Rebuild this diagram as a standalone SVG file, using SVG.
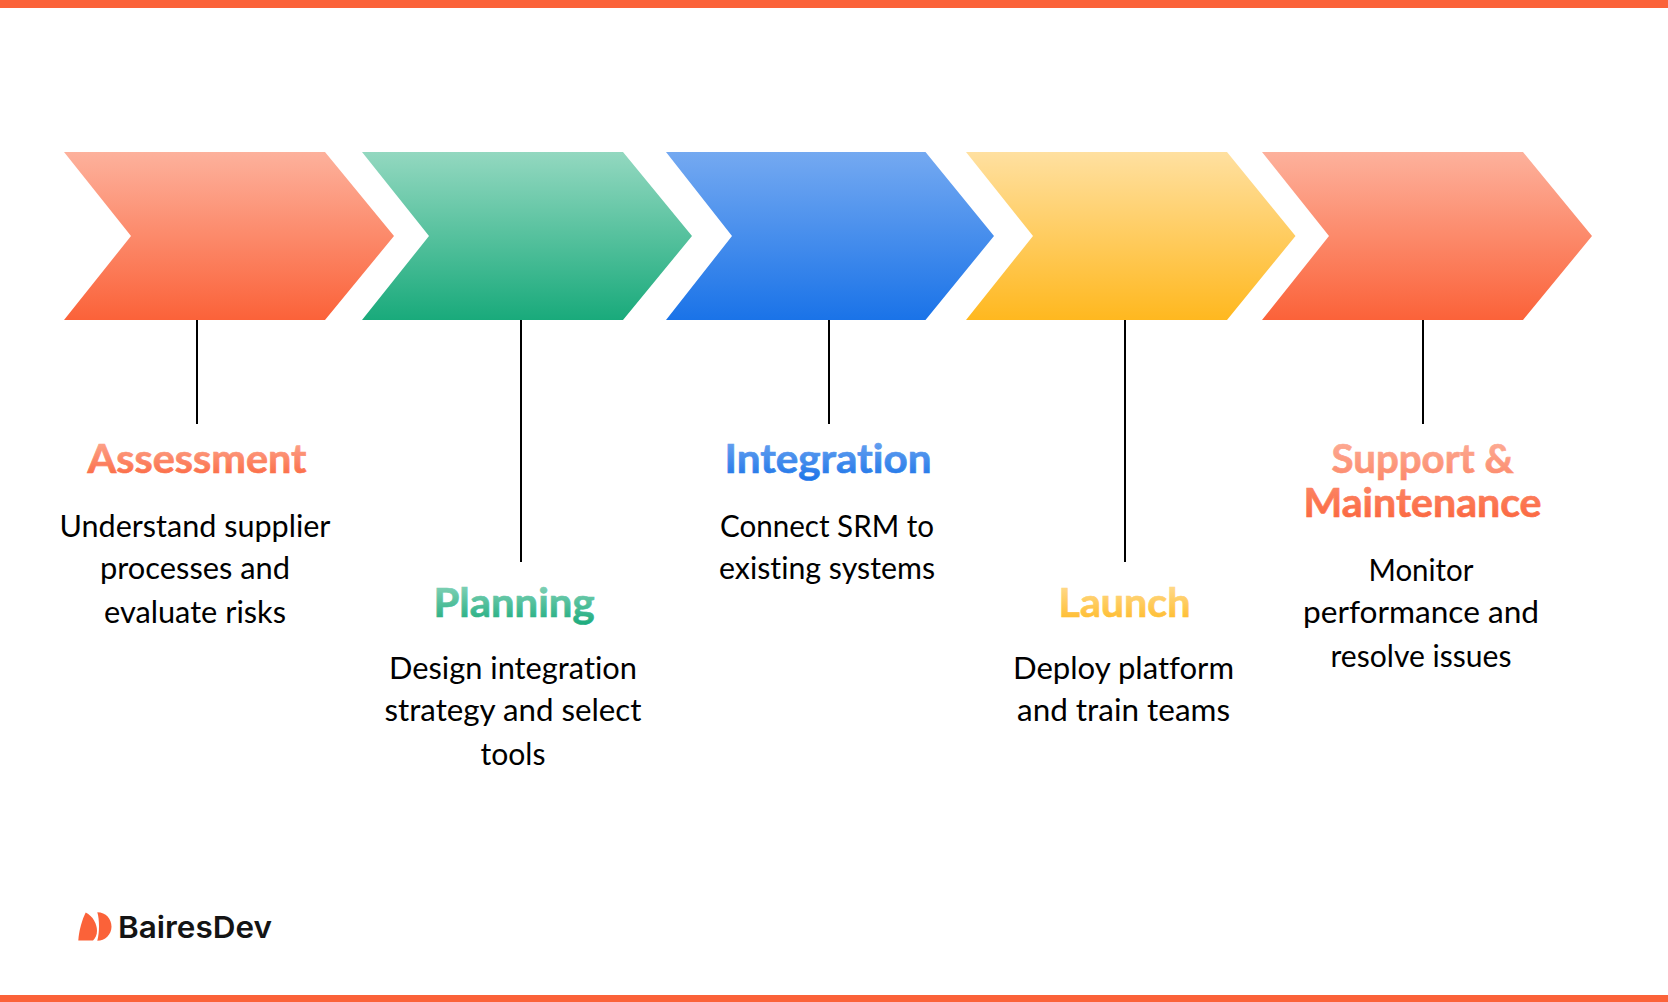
<svg xmlns="http://www.w3.org/2000/svg" width="1668" height="1002" viewBox="0 0 1668 1002">
<style>
.h{font-family:"Lato","Liberation Sans",sans-serif;font-weight:700;font-size:40px;text-anchor:middle;font-variant-ligatures:none;stroke-width:.7}
.b{font-family:"Lato","Liberation Sans",sans-serif;font-weight:400;font-size:30.5px;text-anchor:middle;fill:#000;font-variant-ligatures:none}
.c{stroke:#000;stroke-width:2;fill:none}
.bar{fill:#fb6239}
</style>
<defs>
<linearGradient id="o" x1="0" y1="0" x2="0" y2="1"><stop offset="0" stop-color="#fdb19c"/><stop offset="1" stop-color="#fb6239"/></linearGradient>
<linearGradient id="g" x1="0" y1="0" x2="0" y2="1"><stop offset="0" stop-color="#93d8c0"/><stop offset="1" stop-color="#19aa7b"/></linearGradient>
<linearGradient id="u" x1="0" y1="0" x2="0" y2="1"><stop offset="0" stop-color="#74a9f1"/><stop offset="1" stop-color="#1a73e8"/></linearGradient>
<linearGradient id="y" x1="0" y1="0" x2="0" y2="1"><stop offset="0" stop-color="#ffe0a0"/><stop offset="1" stop-color="#ffb81f"/></linearGradient>
</defs>
<rect class="bar" x="0" y="0" width="1668" height="8"/>
<rect class="bar" x="0" y="995" width="1668" height="7"/>
<g id="connectors">
<line class="c" x1="197" y1="320" x2="197" y2="424"/>
<line class="c" x1="521" y1="320" x2="521" y2="562"/>
<line class="c" x1="829" y1="320" x2="829" y2="424"/>
<line class="c" x1="1125" y1="320" x2="1125" y2="562"/>
<line class="c" x1="1423" y1="320" x2="1423" y2="424"/>
</g>
<g id="assessment">
<polygon fill="url(#o)" points="64,152 325,152 394,236 325,320 64,320 131,236"/>
<text class="h" x="197" y="473" fill="url(#o)" stroke="url(#o)" textLength="219" lengthAdjust="spacingAndGlyphs">Assessment</text>
<text class="b" x="195" y="537" textLength="271" lengthAdjust="spacingAndGlyphs">Understand supplier</text>
<text class="b" x="195" y="579" textLength="190" lengthAdjust="spacingAndGlyphs">processes and</text>
<text class="b" x="195" y="623" textLength="182" lengthAdjust="spacingAndGlyphs">evaluate risks</text>
</g>
<g id="planning">
<polygon fill="url(#g)" points="362,152 623,152 692,236 623,320 362,320 429,236"/>
<text class="h" x="514" y="617" fill="url(#g)" stroke="url(#g)" textLength="161" lengthAdjust="spacingAndGlyphs">Planning</text>
<text class="b" x="513" y="679" textLength="248" lengthAdjust="spacingAndGlyphs">Design integration</text>
<text class="b" x="513" y="721" textLength="257" lengthAdjust="spacingAndGlyphs">strategy and select</text>
<text class="b" x="513" y="765" textLength="65" lengthAdjust="spacingAndGlyphs">tools</text>
</g>
<g id="integration">
<polygon fill="url(#u)" points="666,152 925.5,152 994,236 925.5,320 666,320 732,236"/>
<text class="h" x="828" y="473" fill="url(#u)" stroke="url(#u)" textLength="207" lengthAdjust="spacingAndGlyphs">Integration</text>
<text class="b" x="827" y="537" textLength="214" lengthAdjust="spacingAndGlyphs">Connect SRM to</text>
<text class="b" x="827" y="579" textLength="216" lengthAdjust="spacingAndGlyphs">existing systems</text>
</g>
<g id="launch">
<polygon fill="url(#y)" points="966,152 1227,152 1295.5,236 1227,320 966,320 1033,236"/>
<text class="h" x="1124.5" y="617" fill="url(#y)" stroke="url(#y)" textLength="132" lengthAdjust="spacingAndGlyphs">Launch</text>
<text class="b" x="1123.5" y="679" textLength="221" lengthAdjust="spacingAndGlyphs">Deploy platform</text>
<text class="b" x="1123.5" y="721" textLength="213" lengthAdjust="spacingAndGlyphs">and train teams</text>
</g>
<g id="support">
<polygon fill="url(#o)" points="1262,152 1523,152 1592,236 1523,320 1262,320 1329,236"/>
<text class="h" fill="url(#o)" stroke="url(#o)"><tspan x="1422.5" y="473" textLength="182" lengthAdjust="spacingAndGlyphs">Support &amp;</tspan><tspan x="1422.5" y="517" textLength="238" lengthAdjust="spacingAndGlyphs">Maintenance</tspan></text>
<text class="b" x="1421" y="581" textLength="105" lengthAdjust="spacingAndGlyphs">Monitor</text>
<text class="b" x="1421" y="623" textLength="236" lengthAdjust="spacingAndGlyphs">performance and</text>
<text class="b" x="1421" y="667" textLength="181" lengthAdjust="spacingAndGlyphs">resolve issues</text>
</g>
<g id="logo">
<path class="bar" d="M85.7,912.5 C93,916 97,924 97,931 C97,935 95.5,938 93,940.5 L78.3,940.5 C79,930 82,920 85.7,912.5Z"/>
<path class="bar" d="M97.3,912.3 C106,912.3 111.5,919 111.5,926.7 C111.5,934.5 105,940.7 97.3,940.7 C98.5,936 99,931 99,926.5 C99,921 98.5,916 97.3,912.3Z"/>
<text x="118" y="938" font-family="Inter,'Liberation Sans',sans-serif" font-weight="600" font-size="30px" fill="#141414" textLength="154" lengthAdjust="spacingAndGlyphs">BairesDev</text>
</g>
</svg>
